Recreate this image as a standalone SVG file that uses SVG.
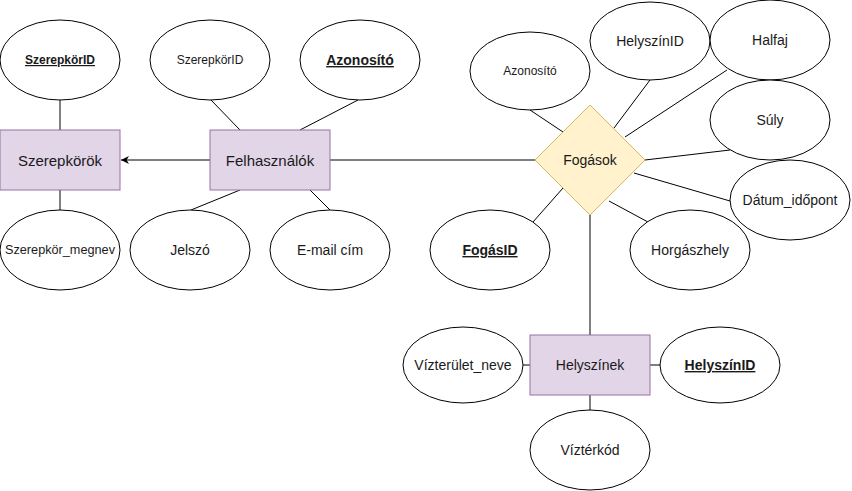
<svg xmlns="http://www.w3.org/2000/svg" width="852" height="491" viewBox="0 0 852 491">
<style>
text{font-family:"Liberation Sans",Arial,sans-serif;fill:#1a1a1a;text-anchor:middle}
.e{fill:#e1d5e7;stroke:#9673a6;stroke-width:1}
.a{fill:#ffffff;stroke:#000;stroke-width:1}
.d{fill:#fff2cc;stroke:#d6b656;stroke-width:1}
.c line{stroke:#000;stroke-width:1}
.t15{font-size:15px}
.t14{font-size:14px}
.t12{font-size:12px}
.t13{font-size:12.7px}
.k{font-weight:bold;text-decoration:underline}
</style>
<defs>
<marker id="arr" viewBox="0 0 10 10" refX="10" refY="5" markerWidth="8" markerHeight="8" markerUnits="userSpaceOnUse" orient="auto">
<path d="M0,0 L10,5 L0,10 L3,5 z" fill="#000"/>
</marker>
</defs>
<rect width="852" height="491" fill="#fff"/>
<g class="c" id="connectors">
<line x1="60" y1="100" x2="60" y2="130"/>
<line x1="60" y1="190" x2="60" y2="210"/>
<line x1="210" y1="160" x2="121" y2="160" marker-end="url(#arr)"/>
<line x1="211" y1="100" x2="240" y2="130"/>
<line x1="358" y1="100" x2="300" y2="130"/>
<line x1="240" y1="190" x2="191" y2="210"/>
<line x1="310" y1="190" x2="330" y2="210"/>
<line x1="330" y1="160" x2="535" y2="160"/>
<line x1="530" y1="110" x2="563" y2="132"/>
<line x1="650" y1="80" x2="614" y2="128"/>
<line x1="727" y1="70" x2="625" y2="137"/>
<line x1="730" y1="150" x2="645" y2="160"/>
<line x1="634" y1="173" x2="730" y2="201"/>
<line x1="609" y1="201" x2="648" y2="222"/>
<line x1="563" y1="188" x2="533" y2="222"/>
<line x1="590" y1="215" x2="590" y2="335"/>
<line x1="523" y1="365" x2="530" y2="365"/>
<line x1="650" y1="365" x2="660" y2="365"/>
<line x1="590" y1="395" x2="590" y2="410"/>
</g>
<g id="szerepkorid-pk"><ellipse class="a" cx="60" cy="60" rx="60" ry="40"/><text class="t12 k" x="60" y="64">SzerepkörID</text></g>
<g id="szerepkorok"><rect class="e" x="0" y="130" width="120" height="60"/><text class="t15" x="60" y="166">Szerepkörök</text></g>
<g id="szerepkor-megnev"><ellipse class="a" cx="60" cy="250" rx="60" ry="40"/><text class="t13" x="60" y="254">Szerepkör_megnev</text></g>
<g id="szerepkorid-fk"><ellipse class="a" cx="210" cy="60" rx="60" ry="40"/><text class="t12" x="210" y="64">SzerepkörID</text></g>
<g id="azonosito-pk"><ellipse class="a" cx="360" cy="60" rx="60" ry="40"/><text class="t14 k" x="360" y="65">Azonosító</text></g>
<g id="felhasznalok"><rect class="e" x="210" y="130" width="120" height="60"/><text class="t15" x="270" y="166">Felhasználók</text></g>
<g id="jelszo"><ellipse class="a" cx="190" cy="250" rx="60" ry="40"/><text class="t14" x="190" y="255">Jelszó</text></g>
<g id="email"><ellipse class="a" cx="330" cy="250" rx="60" ry="40"/><text class="t14" x="330" y="255">E-mail cím</text></g>
<g id="azonosito-fk"><ellipse class="a" cx="530" cy="71" rx="60" ry="39"/><text class="t12" x="530" y="75">Azonosító</text></g>
<g id="helyszinid-fk"><ellipse class="a" cx="650" cy="41" rx="60" ry="39"/><text class="t14" x="650" y="46">HelyszínID</text></g>
<g id="halfaj"><ellipse class="a" cx="770" cy="40" rx="60" ry="40"/><text class="t14" x="770" y="45">Halfaj</text></g>
<g id="suly"><ellipse class="a" cx="770" cy="120" rx="60" ry="40"/><text class="t14" x="770" y="125">Súly</text></g>
<g id="datum"><ellipse class="a" cx="790" cy="200" rx="60" ry="40"/><text class="t14" x="790" y="205">Dátum_időpont</text></g>
<g id="horgaszhely"><ellipse class="a" cx="690" cy="250" rx="60" ry="40"/><text class="t14" x="690" y="255">Horgászhely</text></g>
<g id="fogasid"><ellipse class="a" cx="490" cy="250" rx="60" ry="40"/><text class="t14 k" x="490" y="255">FogásID</text></g>
<g id="fogasok"><polygon class="d" points="590,105 645,160 590,215 535,160"/><text class="t14" x="590" y="165">Fogások</text></g>
<g id="helyszinek"><rect class="e" x="530" y="335" width="120" height="60"/><text class="t14" x="590" y="370">Helyszínek</text></g>
<g id="vizterulet"><ellipse class="a" cx="463" cy="365" rx="60" ry="38"/><text class="t14" x="463" y="370">Vízterület_neve</text></g>
<g id="helyszinid-pk"><ellipse class="a" cx="720" cy="365" rx="60" ry="38"/><text class="t14 k" x="720" y="370">HelyszínID</text></g>
<g id="vizterkod"><ellipse class="a" cx="590" cy="450" rx="60" ry="40"/><text class="t14" x="590" y="455">Víztérkód</text></g>
</svg>
